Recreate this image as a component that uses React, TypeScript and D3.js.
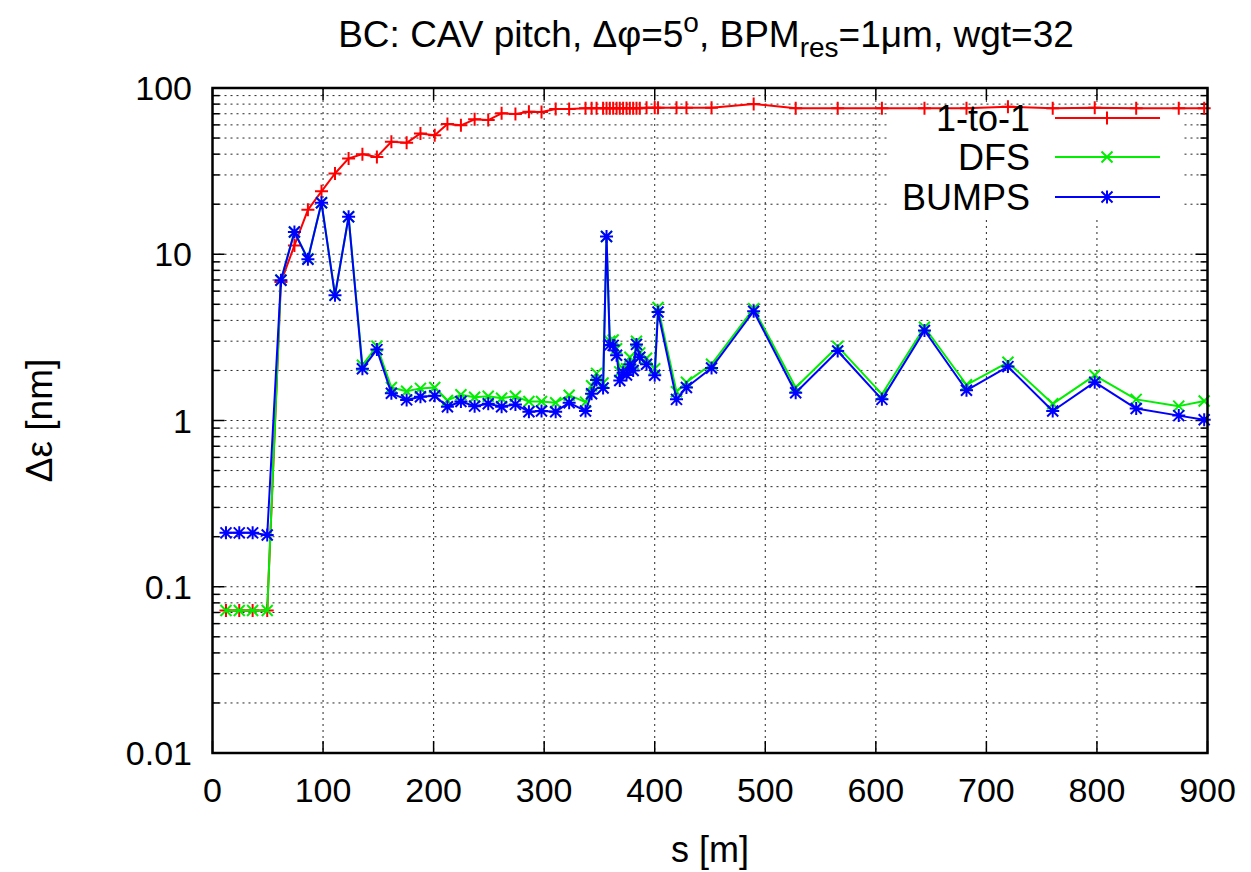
import React from "react";
import * as d3 from "d3";

const sPos = [
  12.2, 24.2, 36.3, 49.5, 61.9, 74.1, 86.3, 98.6, 110.8, 123.1, 135.6, 148.7, 161.8, 175.6, 188.1, 201,
  212.5, 224.7, 237.1, 249.4, 261.5, 274, 286.2, 297.6, 310.4, 322.6, 337.4,
  342.9, 347.4, 353.3, 356.4, 359.4, 362.4, 365.5, 368.4, 371.4, 374.5, 377.5, 380.5, 383.5, 386.5, 392.6,
  400, 403, 419.7, 428.7, 451.4, 489.5, 527.5, 565.5, 605.5, 644, 682, 719.5, 760, 798, 835.5, 874, 897,
];

const oneToOne = [
  0.072, 0.072, 0.072, 0.072, 6.8, 11.3, 18.5, 23.9, 30.6, 37.7, 40, 38.5, 47.5, 46.8, 53.3, 52,
  60.7, 59.6, 64.8, 64.1, 70.4, 69.7, 72, 71.7, 74.7, 74.7, 75.5,
  75.5, 75.5, 75.5, 75.5, 75.5, 75.5, 75.5, 75.5, 75.5, 75.5, 75.5, 75.5, 75.5, 75.5, 76,
  76, 76, 76, 76, 76.1, 80.1, 75.5, 75.5, 75.5, 75.5, 75.5, 77.2, 75.5, 76, 75.5, 75.5, 75.5,
];

const dfs = [
  0.072, 0.072, 0.072, 0.072, 7.0, 13.6, 9.4, 20.4, 5.7, 16.8, 2.15, 2.8, 1.58, 1.5, 1.56, 1.58,
  1.32, 1.43, 1.38, 1.4, 1.36, 1.4, 1.3, 1.3, 1.28, 1.42, 1.29,
  1.62, 1.92, 1.68, 12.8, 3.0, 3.05, 2.7, 1.96, 2.05, 2.05, 2.4, 2.2, 3.0, 2.55, 2.37,
  2.05, 4.78, 1.49, 1.7, 2.18, 4.71, 1.58, 2.79, 1.44, 3.64, 1.64, 2.24, 1.26, 1.87, 1.34, 1.22, 1.31,
];

const bumps = [
  0.211, 0.211, 0.211, 0.205, 6.97, 13.6, 9.33, 20.4, 5.66, 16.8, 2.05, 2.67, 1.46, 1.33, 1.39, 1.41,
  1.21, 1.3, 1.22, 1.26, 1.21, 1.25, 1.13, 1.14, 1.13, 1.28, 1.14,
  1.45, 1.75, 1.57, 12.8, 2.85, 2.83, 2.47, 1.74, 1.94, 1.88, 2.18, 2.0, 2.87, 2.4, 2.18,
  1.87, 4.49, 1.34, 1.58, 2.07, 4.54, 1.47, 2.62, 1.34, 3.48, 1.52, 2.11, 1.14, 1.7, 1.18, 1.07, 1.01,
];

const xTicks = [0, 100, 200, 300, 400, 500, 600, 700, 800, 900];
const yMajor = [0.01, 0.1, 1, 10, 100];
const yMajorLabels = ["0.01", "0.1", "1", "10", "100"];

const seriesNames = ["1-to-1", "DFS", "BUMPS"];
const seriesColors = ["#ff0000", "#00ee00", "#0000ff"];
const seriesMarkers = ["plus", "cross", "star"];

const L = 212.5, R = 1207.5, T = 88, B = 753;
const FONT = "'Liberation Sans', Arial, Helvetica, sans-serif";

function Marker({ x, y, kind, color }: { x: number; y: number; kind: string; color: string }) {
  const p = 6.5;
  const c = 5.5;
  const segs: string[] = [];
  if (kind === "plus" || kind === "star") segs.push(`M${x - p},${y}H${x + p}M${x},${y - p}V${y + p}`);
  if (kind === "cross" || kind === "star") segs.push(`M${x - c},${y - c}L${x + c},${y + c}M${x - c},${y + c}L${x + c},${y - c}`);
  return <path d={segs.join("")} stroke={color} strokeWidth={2} fill="none" />;
}

export default function App() {
  const x = d3.scaleLinear().domain([0, 900]).range([L, R]);
  const y = d3.scaleLog().domain([0.01, 100]).range([B, T]);

  const yMinor: number[] = [];
  for (let d = -2; d < 2; d++) for (let k = 2; k <= 9; k++) yMinor.push(k * Math.pow(10, d));
  const yGrid = [...yMinor, 0.1, 1, 10];

  const line = d3.line<number>().x((_, i) => x(sPos[i])).y((v) => y(v));
  const data = [oneToOne, dfs, bumps];

  const legendY = [118, 157, 197];

  return (
    <svg width={1251} height={872} style={{ display: "block", position: "absolute", left: 0, top: 0 }} fontFamily={FONT}>
      <rect x={0} y={0} width={1251} height={872} fill="#fff" />
      <g stroke="#000" strokeWidth={1} strokeDasharray="2,4" opacity={0.85}>
        {yGrid.map((v, i) => (
          <line key={"gy" + i} x1={L} x2={R} y1={y(v)} y2={y(v)} />
        ))}
        {xTicks.slice(1, -1).map((v, i) => (
          <line key={"gx" + i} x1={x(v)} x2={x(v)} y1={T} y2={B} />
        ))}
      </g>
      <rect x={890} y={106} width={293} height={110} fill="#fff" />
      <g stroke="#000" strokeWidth={1.5}>
        {yMajor.map((v, i) => (
          <g key={"ym" + i}>
            <line x1={L} x2={L + 12} y1={y(v)} y2={y(v)} />
            <line x1={R} x2={R - 12} y1={y(v)} y2={y(v)} />
          </g>
        ))}
        {yMinor.map((v, i) => (
          <g key={"yn" + i}>
            <line x1={L} x2={L + 7} y1={y(v)} y2={y(v)} />
            <line x1={R} x2={R - 7} y1={y(v)} y2={y(v)} />
          </g>
        ))}
        {xTicks.map((v, i) => (
          <g key={"xt" + i}>
            <line x1={x(v)} x2={x(v)} y1={B} y2={B - 12} />
            <line x1={x(v)} x2={x(v)} y1={T} y2={T + 12} />
          </g>
        ))}
      </g>
      {data.map((vals, si) => (
        <g key={"s" + si}>
          <path d={line(vals) || ""} fill="none" stroke={seriesColors[si]} strokeWidth={2} strokeLinejoin="round" />
          {vals.map((v, i) => (
            <Marker key={i} x={x(sPos[i])} y={y(v)} kind={seriesMarkers[si]} color={seriesColors[si]} />
          ))}
        </g>
      ))}
      <rect x={L} y={T} width={R - L} height={B - T} fill="none" stroke="#000" strokeWidth={2.5} />
      <g fontSize={34} fill="#000">
        {yMajor.map((v, i) => (
          <text key={"yl" + i} x={192} y={y(v)} textAnchor="end" dominantBaseline="central">
            {yMajorLabels[i]}
          </text>
        ))}
        {xTicks.map((v, i) => (
          <text key={"xl" + i} x={x(v)} y={802} textAnchor="middle">
            {v}
          </text>
        ))}
      </g>
      <text x={(L + R) / 2} y={862} textAnchor="middle" fontSize={36}>
        s [m]
      </text>
      <text transform={`translate(52,${(T + B) / 2}) rotate(-90)`} textAnchor="middle" fontSize={37}>
        Δε [nm]
      </text>
      <text x={706} y={47} textAnchor="middle" fontSize={37}>
        BC: CAV pitch, Δφ=5
        <tspan fontSize={28} dy={-15}>o</tspan>
        <tspan dy={15}>, BPM</tspan>
        <tspan fontSize={28} dy={10}>res</tspan>
        <tspan dy={-10}>=1μm, wgt=32</tspan>
      </text>
      {seriesNames.map((n, i) => (
        <g key={"lg" + i}>
          <text x={1030} y={legendY[i]} textAnchor="end" dominantBaseline="central" fontSize={36}>
            {n}
          </text>
          <line x1={1055} x2={1160} y1={legendY[i]} y2={legendY[i]} stroke={seriesColors[i]} strokeWidth={2} />
          <Marker x={1107} y={legendY[i]} kind={seriesMarkers[i]} color={seriesColors[i]} />
        </g>
      ))}
    </svg>
  );
}
